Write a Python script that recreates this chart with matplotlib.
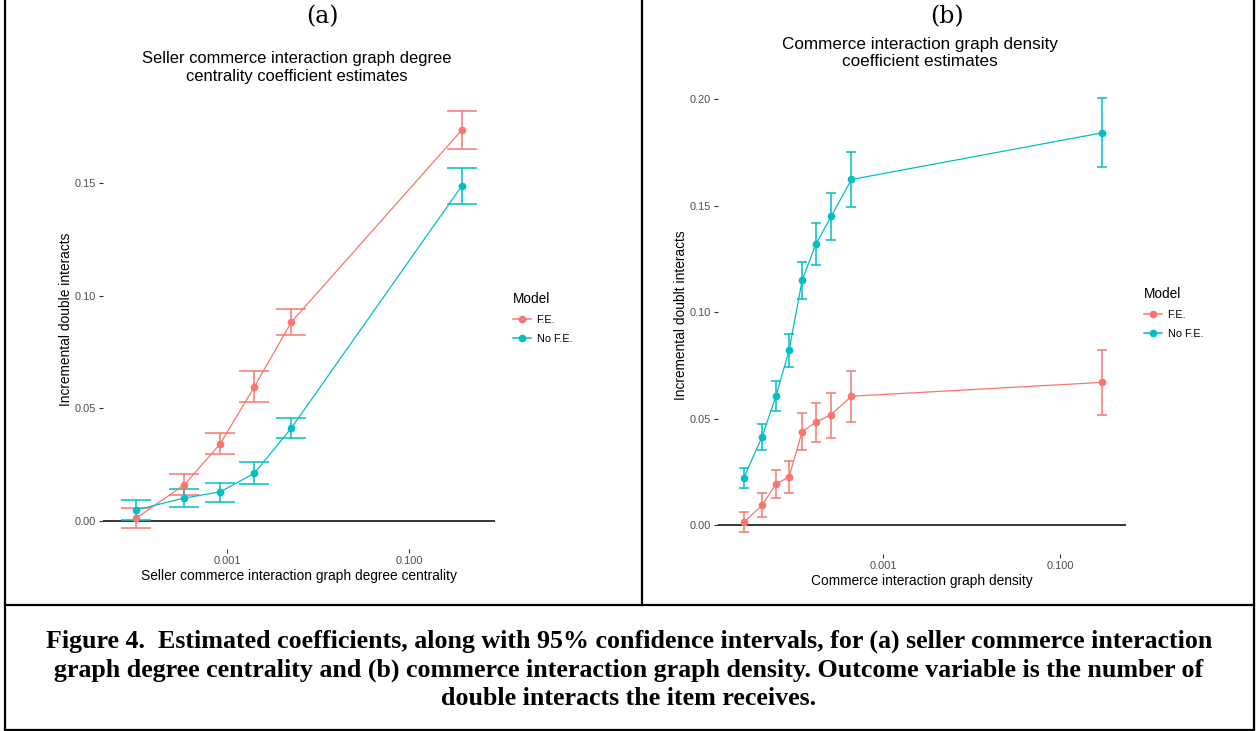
import numpy as np
import matplotlib
matplotlib.use("Agg")
import matplotlib.pyplot as plt
from matplotlib.lines import Line2D

# Panel (a): seller degree centrality
x_a = [1.0e-4, 3.4e-4, 8.4e-4, 2.0e-3, 5.1e-3, 0.38]
fe_a = [0.0012, 0.0161, 0.0342, 0.0596, 0.0883, 0.1735]
fe_a_lo = [-0.0032, 0.0115, 0.0296, 0.0527, 0.0824, 0.1650]
fe_a_hi = [0.0059, 0.0209, 0.0389, 0.0664, 0.0942, 0.1820]
nofe_a = [0.0049, 0.0102, 0.0129, 0.0212, 0.0413, 0.1487]
nofe_a_lo = [0.0004, 0.0061, 0.0086, 0.0163, 0.0367, 0.1407]
nofe_a_hi = [0.0093, 0.0142, 0.0170, 0.0262, 0.0459, 0.1567]

# Panel (b): graph density
x_b = [2.69e-5, 4.3e-5, 6.18e-5, 8.7e-5, 1.22e-4, 1.75e-4, 2.6e-4, 4.4e-4, 0.30]
fe_b = [0.0014, 0.0094, 0.0194, 0.0227, 0.0440, 0.0484, 0.0520, 0.0606, 0.0671]
fe_b_lo = [-0.0033, 0.0038, 0.0130, 0.0153, 0.0354, 0.0391, 0.0412, 0.0485, 0.0520]
fe_b_hi = [0.0060, 0.0152, 0.0258, 0.0304, 0.0527, 0.0576, 0.0621, 0.0724, 0.0825]
nofe_b = [0.0224, 0.0415, 0.0607, 0.0822, 0.1150, 0.1322, 0.1451, 0.1624, 0.1843]
nofe_b_lo = [0.0177, 0.0352, 0.0538, 0.0742, 0.1061, 0.1222, 0.1338, 0.1495, 0.1681]
nofe_b_hi = [0.0269, 0.0476, 0.0676, 0.0900, 0.1238, 0.1419, 0.1560, 0.1753, 0.2008]

models = ["F.E.", "No F.E."]
colors = ["#F8766D", "#00BFC4"]

caption = [
    "Figure 4.  Estimated coefficients, along with 95% confidence intervals, for (a) seller commerce interaction",
    "graph degree centrality and (b) commerce interaction graph density. Outcome variable is the number of",
    "double interacts the item receives.",
]

W, H = 1258, 731
fig = plt.figure(figsize=(W / 100, H / 100), dpi=100)
sans = ["Liberation Sans", "DejaVu Sans"]
serif = ["Liberation Serif", "DejaVu Serif"]


def fx(px):
    return px / W


def fy(py):
    return 1 - py / H


def panel(rect_px, x, series, xlim, ylim, yticks, capsize, xlabel, ylabel):
    l, t, r, b = rect_px
    ax = fig.add_axes([fx(l), fy(b), fx(r - l), (b - t) / H])
    ax.set_xscale("log")
    ax.axhline(0, color="black", lw=1.1, zorder=1)
    for (y, lo, hi), c in zip(series, colors):
        y = np.array(y)
        err = [y - np.array(lo), np.array(hi) - y]
        ax.errorbar(x, y, yerr=err, fmt="none", ecolor=c, elinewidth=1.1,
                    capsize=capsize, capthick=1.1, zorder=2)
        ax.plot(x, y, color=c, lw=0.9, marker="o", ms=4.5, zorder=3)
    ax.set_xlim(*xlim)
    ax.set_ylim(*ylim)
    ax.set_xticks([0.001, 0.1])
    ax.set_xticklabels(["0.001", "0.100"])
    ax.minorticks_off()
    ax.set_yticks(yticks)
    ax.set_yticklabels([f"{v:.2f}" for v in yticks])
    for s in ax.spines.values():
        s.set_visible(False)
    ax.tick_params(length=3, width=0.8, color="#333333", labelcolor="#4D4D4D",
                   labelsize=7.9, pad=2)
    for lab in ax.get_xticklabels() + ax.get_yticklabels():
        lab.set_family(sans)
    ax.set_xlabel(xlabel, fontsize=9.9, family=sans, labelpad=2.5)
    ax.set_ylabel(ylabel, fontsize=9.9, family=sans, labelpad=1.5)
    handles = [Line2D([], [], color=c, lw=1.1, marker="o", ms=4.5) for c in colors]
    return ax, handles


def add_legend(ax, handles, x0, y0):
    leg = ax.legend(handles, models, title="Model", loc="upper left",
                    bbox_to_anchor=(fx(x0), fy(y0)), bbox_transform=fig.transFigure,
                    frameon=False, title_fontsize=9.8,
                    handlelength=1.7, handletextpad=0.5, labelspacing=0.85,
                    alignment="left", prop={"family": sans, "size": 7.8})
    leg.get_title().set_family(sans)


ax_a, h = panel((103, 90, 495, 549), x_a,
                [(fe_a, fe_a_lo, fe_a_hi), (nofe_a, nofe_a_lo, nofe_a_hi)],
                (10 ** -4.363, 10 ** -0.055), (-0.01243, 0.1913),
                [0.0, 0.05, 0.10, 0.15], 10.8,
                "Seller commerce interaction graph degree centrality",
                "Incremental double interacts")
add_legend(ax_a, h, 503, 282)

ax_b, h = panel((718, 76, 1126, 554), x_b,
                [(fe_b, fe_b_lo, fe_b_hi), (nofe_b, nofe_b_lo, nofe_b_hi)],
                (10 ** -4.864, 10 ** -0.254), (-0.0135, 0.211),
                [0.0, 0.05, 0.10, 0.15, 0.20], 3.7,
                "Commerce interaction graph density",
                "Incremental doublt interacts")
add_legend(ax_b, h, 1134, 277)

# Panel letters and titles
fig.text(fx(322), fy(17), "(a)", ha="center", va="center", fontsize=17, family=["DejaVu Serif"])
fig.text(fx(947), fy(17), "(b)", ha="center", va="center", fontsize=17, family=["DejaVu Serif"])
fig.text(fx(297), fy(58.5), "Seller commerce interaction graph degree",
         ha="center", va="center", fontsize=11.9, family=sans)
fig.text(fx(297), fy(77), "centrality coefficient estimates",
         ha="center", va="center", fontsize=11.9, family=sans)
fig.text(fx(920), fy(44), "Commerce interaction graph density",
         ha="center", va="center", fontsize=12.3, family=sans)
fig.text(fx(920), fy(62), "coefficient estimates",
         ha="center", va="center", fontsize=12.3, family=sans)

# Caption
for line, base in zip(caption, [648, 676.5, 705]):
    fig.text(fx(629), fy(base), line, ha="center", va="baseline",
             fontsize=18.7, family=serif, weight="bold")

# Frame lines
lw = 1.6
for xs, ys in [((5, 5), (0, 730)), ((1254, 1254), (0, 730)), ((5, 1254), (730, 730)),
               ((5, 1254), (605, 605)), ((642, 642), (0, 605))]:
    fig.add_artist(Line2D([fx(v) for v in xs], [fy(v) for v in ys], color="black", lw=lw))

fig.savefig("out.png", dpi=100)
